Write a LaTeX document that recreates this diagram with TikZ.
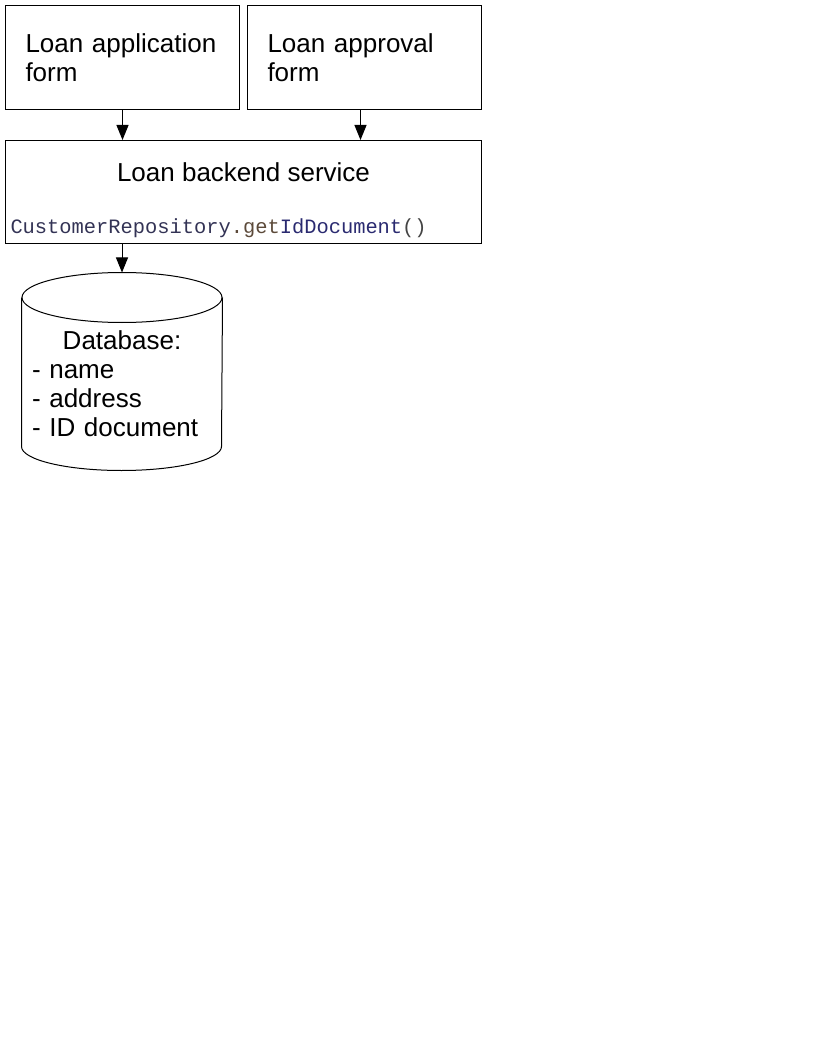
\documentclass[tikz,border=0pt]{standalone}
\usepackage{fontspec}
\setmainfont{Liberation Sans}
\setmonofont{Liberation Mono}
\usetikzlibrary{arrows.meta,positioning}

\definecolor{classcol}{HTML}{333355}
\definecolor{getcol}{HTML}{5C4A3A}
\definecolor{idcol}{HTML}{2A2A70}
\definecolor{parcol}{HTML}{444444}

\begin{document}
\begin{tikzpicture}[x=1pt, y=-1pt, line width=1pt,
    >={Triangle[length=15pt,width=12pt]},
    font=\fontsize{26}{29}\selectfont,
    form/.style={draw, anchor=north west, minimum width=234pt, minimum height=104pt,
      text width=194pt, align=left, inner xsep=20pt, inner ysep=0pt},
    code/.style={font=\ttfamily\fontsize{20.4}{24}\selectfont, inner sep=0pt}]
  \useasboundingbox (0,0) rectangle (816,1056);

  \node[form] (appform) at (5,5) {Loan application\\form};
  \node[form, right=7pt of appform.north east, anchor=north west] (approval) {Loan approval\\form};

  \node[draw, anchor=north west, minimum width=476pt, minimum height=103pt] (backend) at (5,140) {};
  \node[anchor=base, inner sep=0pt] (svc) at ([yshift=-42pt]backend.north) {Loan backend service};
  \node[code, anchor=base west] (call) at ([xshift=5pt,yshift=-94pt]backend.north west)
    {\textcolor{classcol}{CustomerRepository}\textcolor{getcol}{.get}\textcolor{idcol}{IdDocument}\textcolor{parcol}{()}};

  % database cylinder
  \node[minimum width=200pt, minimum height=197pt, inner sep=0pt] (db) at (122,371.5) {};
  \draw ([yshift=-25pt]db.north) ellipse [x radius=100pt, y radius=25pt];
  \draw ([yshift=-25pt]db.north west) -- ([yshift=24pt]db.south west)
    arc[start angle=180, end angle=360, x radius=100pt, y radius=24pt] -- ([yshift=-25pt]db.north east);
  \node[text width=180pt, align=left, inner sep=0pt, anchor=north] (dbtext) at ([yshift=41pt]db.center)
    {\makebox[\linewidth]{Database:}\\- name\\- address\\- ID document};

  \draw[->] (appform.south) -- (appform.south |- backend.north);
  \draw[->] ([xshift=-4pt]approval.south) -- ([xshift=-4pt]approval.south |- backend.north);
  \draw[->] (db.north |- backend.south) -- (db.north);
\end{tikzpicture}
\end{document}
